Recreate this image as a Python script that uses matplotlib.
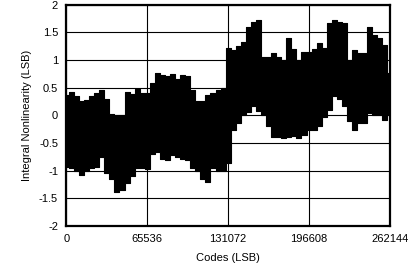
import numpy as np
import matplotlib
matplotlib.use('Agg')
from matplotlib import pyplot as plt

plt.rcParams['font.family'] = ['Liberation Sans', 'DejaVu Sans']

codes = [4096 * i for i in range(65)]
inl_upper = [0.37, 0.42, 0.35, 0.25, 0.27, 0.35, 0.40, 0.45, 0.30, 0.02,
             0.00, 0.00, 0.42, 0.38, 0.48, 0.40, 0.40, 0.58, 0.76, 0.72,
             0.70, 0.75, 0.65, 0.72, 0.70, 0.46, 0.25, 0.25, 0.37, 0.40,
             0.45, 0.49, 1.21, 1.18, 1.25, 1.33, 1.60, 1.69, 1.72, 1.05,
             1.05, 1.12, 1.05, 1.00, 1.39, 1.20, 1.00, 1.15, 1.15, 1.20,
             1.30, 1.21, 1.66, 1.72, 1.68, 1.66, 1.00, 1.18, 1.12, 1.12,
             1.60, 1.45, 1.39, 1.27, 0.76]
inl_lower = [-0.93, -0.95, -1.00, -1.08, -1.00, -0.95, -0.93, -0.75, -1.04, -1.15,
             -1.38, -1.35, -1.22, -1.10, -0.95, -0.95, -0.98, -0.70, -0.66, -0.80,
             -0.81, -0.72, -0.75, -0.80, -0.81, -0.95, -1.01, -1.15, -1.20, -0.95,
             -1.00, -1.00, -0.86, -0.27, -0.14, 0.00, 0.05, 0.16, 0.07, 0.00,
             -0.20, -0.39, -0.40, -0.42, -0.40, -0.37, -0.42, -0.35, -0.27, -0.26,
             -0.20, -0.03, 0.10, 0.34, 0.30, 0.16, -0.10, -0.27, -0.14, -0.14,
             0.04, 0.00, 0.00, -0.08, 0.00]

x_ticks = [0, 65536, 131072, 196608, 262144]
y_ticks = [-2, -1.5, -1, -0.5, 0, 0.5, 1, 1.5, 2]
y_labels = ['-2', '-1.5', '-1', '-0.5', '0', '0.5', '1', '1.5', '2']

fig = plt.figure(figsize=(4.1, 2.67), dpi=100)
ax = fig.add_axes([0.162, 0.154, 0.789, 0.829])

ax.fill_between(codes, inl_lower, inl_upper, step='mid', color='black', lw=0.8, edgecolor='black')

ax.set_xlim(0, 262144)
ax.set_ylim(-2, 2)
ax.set_xticks(x_ticks)
ax.set_xticklabels([str(v) for v in x_ticks])
ax.set_yticks(y_ticks)
ax.set_yticklabels(y_labels)
ax.tick_params(length=0, labelsize=8, pad=6)
ax.grid(True, color='black', lw=0.8)
ax.set_axisbelow(True)
for s in ax.spines.values():
    s.set_linewidth(1.6)

ax.set_xlabel('Codes (LSB)', fontsize=8, labelpad=6)
ax.set_ylabel('Integral Nonlinearity (LSB)', fontsize=8, labelpad=5)

fig.savefig('out.png', dpi=100)
